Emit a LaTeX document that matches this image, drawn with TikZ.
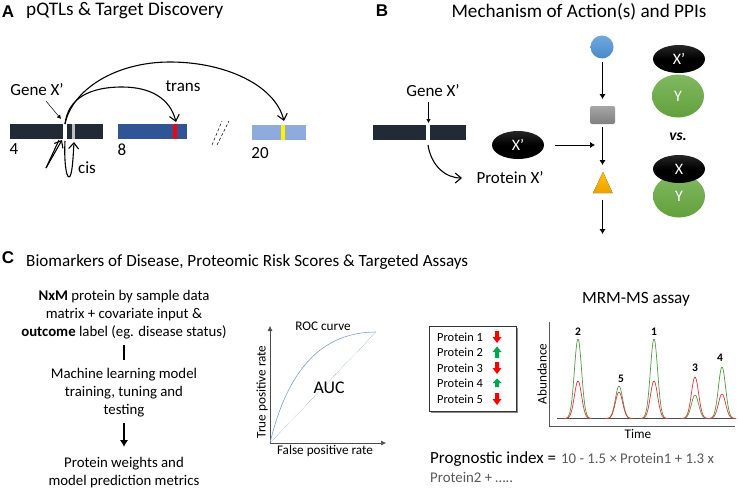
\documentclass[tikz,border=0pt]{standalone}
\usepackage{fontspec}
\setmainfont{Carlito}
\newfontfamily\headfont{Liberation Sans}
\usetikzlibrary{arrows.meta, shapes.geometric}
\definecolor{barDark}{HTML}{222A35}
\definecolor{barBlue}{HTML}{2F5597}
\definecolor{barLight}{HTML}{8FAADC}
\definecolor{greyText}{HTML}{595959}
\definecolor{peakGreen}{HTML}{4E9A3F}
\definecolor{peakRed}{HTML}{E8303A}
\definecolor{upGreen}{HTML}{00A651}
\definecolor{dotTop}{HTML}{6FA8DC}
\definecolor{dotLow}{HTML}{4A8BCB}
\definecolor{greenTop}{HTML}{80B860}
\definecolor{greenLow}{HTML}{62A03C}
\definecolor{triTop}{HTML}{FFC000}
\definecolor{triLow}{HTML}{EDA100}
\definecolor{rocBlue}{HTML}{7C9FD6}
\tikzset{
  panel/.style={font=\headfont\bfseries\fontsize{17}{17}\selectfont},
  heading/.style={inner sep=0pt, font=\fontsize{19.2}{20}\selectfont},
  lab/.style={font=\fontsize{17}{17}\selectfont},
  body/.style={font=\fontsize{14.8}{18}\selectfont},
  small/.style={font=\fontsize{13.2}{13.2}\selectfont},
  open/.style={-{Straight Barb[length=6pt,width=10pt]}, line width=1.1pt},
  flow/.style={-{Latex[length=5pt,width=6.5pt]}, line width=1pt},
  thin arrow/.style={-{Latex[length=4pt,width=4.5pt]}, line width=.5pt},
  blob/.style={ellipse, minimum width=52pt, minimum height=28pt, inner sep=0pt, text=white,
    top color=black!85, bottom color=black, middle color=black, font=\fontsize{16}{16}\selectfont},
  greenblob/.style={ellipse, minimum width=52pt, minimum height=43pt, inner sep=0pt, text=white,
    top color=greenTop, bottom color=greenLow, font=\fontsize{16}{16}\selectfont},
}
\begin{document}
\begin{tikzpicture}[x=1pt, y=-1pt]
\useasboundingbox (0,0) rectangle (738,490);

% panel A
\node [panel] (labA) at (8,12) {A};
\node [heading, anchor=west] (titleA) at (26,11) {pQTLs \& Target Discovery};

\fill [barDark] (10,124) rectangle (103,139);
\fill [white] (63,124) rectangle (67,139);
\fill [black!25] (72,124) rectangle (75,139);
\fill [barBlue] (118,124) rectangle (187,139);
\fill [red] (173,124) rectangle (177,139);
\fill [barLight] (252,125) rectangle (306,140);
\fill [yellow] (281,125) rectangle (285,140);

\draw [densely dashed, line width=.5pt] (212,145) -- (222,121);
\draw [densely dashed, line width=.5pt] (217,145) -- (229,121);

\node [lab] (chrA) at (14,149) {4};
\node [lab] (chrB) at (122,150) {8};
\node [lab] (chrC) at (260,153) {20};
\node [lab] (geneA) at (37,90) {Gene X’};
\node [lab] (trans) at (183,86) {trans};
\node [lab] (cis) at (87,168) {cis};

\coordinate (hit) at (65,124);
\coordinate (hitA) at (176,122);
\coordinate (hitB) at (284,121);
\coordinate (geneTip) at (61,119);
\draw [open] (hit) .. controls (68,98) and (90,87) .. (122,87) .. controls (150,87) and (170,98) .. (hitA);
\draw [open] (hit) .. controls (72,90) and (115,62) .. (170,62) .. controls (225,62) and (275,85) .. (hitB);
\draw [thin arrow] (46,101) -- (geneTip);

\coordinate (cisA) at (62,140);
\coordinate (cisB) at (74,142);
\coordinate (cisFoot) at (46,168);
\coordinate (cisLow) at (69,177);
\draw [open] (cisFoot) -- (cisA);
\draw [line width=1.1pt] (cisFoot) -- (59,140);
\draw [line width=1.1pt] (65,141) .. controls (64,160) and (66,177) .. (cisLow);
\draw [open] (cisLow) .. controls (72,177) and (73,160) .. (cisB);

% panel B
\node [panel] (labB) at (382,11) {B};
\node [heading] (titleB) at (579,12) {Mechanism of Action(s) and PPIs};

\fill [barDark] (373,125) rectangle (426,140);
\fill [barDark] (430,125) rectangle (466,140);
\node [lab] (geneB) at (433,91) {Gene X’};
\node [lab] (proteinX) at (510,178) {Protein X’};
\coordinate (geneIn) at (428.5,123);
\coordinate (geneOut) at (428,145);
\coordinate (proteinIn) at (462,178);
\draw [thin arrow] (428.5,102) -- (geneIn);
\draw [open] (geneOut) .. controls (431,165) and (445,178) .. (proteinIn);

\node [blob] (drug) at (518,145) {X’};
\coordinate (drugTip) at (595,145);
\draw [flow] (555,145) -- (drugTip);

\node [circle, minimum size=23pt, inner sep=0pt, top color=dotTop, bottom color=dotLow] (dot) at (602,47) {};
\node [rounded corners=2pt, minimum width=25pt, minimum height=18pt, inner sep=0pt, top color=black!35, bottom color=black!50] (rect) at (602.5,115) {};
\coordinate (apex) at (603,172);
\fill [top color=triTop, bottom color=triLow] (apex) -- (612.5,193) -- (593,193) -- cycle;
\coordinate (tri) at (602.5,200);
\coordinate (endB) at (602.5,234);
\draw [flow] (602.5,62) -- (602.5,99);
\draw [flow] (602.5,127) -- (602.5,165);
\draw [flow] (tri) -- (endB);

\node [greenblob] (yA) at (678,96) {Y};
\node [blob] (xA) at (679,59) {X’};
\node [font=\fontsize{15.5}{15.5}\selectfont\itshape\bfseries] (versus) at (678,137) {vs.};
\node [greenblob] (yB) at (679,196) {Y};
\node [blob] (xB) at (679,169) {X};

% panel C
\node [panel] (labC) at (8,258) {C};
\node [heading, anchor=west, font=\fontsize{17.1}{18}\selectfont] (titleC) at (26,262) {Biomarkers of Disease, Proteomic Risk Scores \& Targeted Assays};

\node [body, align=center] (input) at (124,314.5) {\textbf{NxM} protein by sample data\\ matrix + covariate input \&\\ \textbf{outcome} label (eg. disease status)};
\node [body, align=center] (train) at (124,392.5) {Machine learning model\\ training, tuning and\\ testing};
\node [body, align=center] (metrics) at (124,473) {Protein weights and\\ model prediction metrics};
\draw [line width=2.4pt] (124,345) -- (124,360);
\draw [-{Latex[length=7pt,width=8.5pt]}, line width=2pt] (124,423) -- (124,447);

% ROC
\coordinate (origin) at (270,443);
\coordinate (yTop) at (270,326);
\coordinate (xEnd) at (386,443);
\coordinate (rocEnd) at (376,332);
\draw [-{Latex[length=5pt,width=5pt]}, line width=.5pt, black!70] (origin) -- (yTop);
\draw [-{Latex[length=5pt,width=5pt]}, line width=.5pt, black!70] (origin) -- (xEnd);
\draw [rocBlue, line width=.6pt] (origin) .. controls (285,380) and (315,332) .. (rocEnd);
\draw [rocBlue, densely dotted, line width=.5pt] (origin) -- (rocEnd);
\node [small] (rocLabel) at (323,326) {ROC curve};
\node [font=\fontsize{17.8}{18}\selectfont] (auc) at (329,388) {AUC};
\node [small] (xName) at (325,451) {False positive rate};
\node [small, rotate=90] (yName) at (262,392) {True positive rate};

% protein list
\fill [black!45] (431,328) rectangle (518,413);
\node [draw=black!80, fill=white, line width=.7pt, minimum width=87pt, minimum height=85pt, inner sep=0pt] (listBox) at (472.5,368.5) {};
\foreach \n/\yy in {1/337, 2/352, 3/368, 4/383, 5/399}
  \node [anchor=west, inner sep=0pt, font=\fontsize{12.4}{12.4}\selectfont] (prot\n) at (437,\yy) {Protein \n};
\foreach \yy in {337, 368, 399}
  \fill [red] (495,\yy-6) -- (499,\yy-6) -- (499,\yy) -- (501.5,\yy) -- (497,\yy+6) -- (492.5,\yy) -- (495,\yy) -- cycle;
\fill [upGreen] (495,358) -- (499,358) -- (499,352) -- (501.5,352) -- (497,346.5) -- (492.5,352) -- (495,352) -- cycle;
\fill [upGreen] (495,387) -- (499,387) -- (499,383) -- (501.5,383) -- (497,378.5) -- (492.5,383) -- (495,383) -- cycle;

% chromatogram
\node [font=\fontsize{17.2}{17.2}\selectfont] (mrm) at (636,299) {MRM-MS assay};
\coordinate (yAxis) at (549,322);
\coordinate (corner) at (549,426);
\coordinate (xAxis) at (735,426);
\draw [black!65, line width=.7pt] (yAxis) -- (corner) -- (xAxis);
\draw [black!70, line width=.6pt] (557,418.5) -- (736,418.5);
\foreach \pk/\hg/\hr in {578/79.5/37.5, 619/32.5/26.5, 654/79.5/37.5, 695/23.5/41.5, 722/51.5/24.5} {
  \draw [peakGreen, line width=.7pt] plot [domain=\pk-14:\pk+14, samples=40, smooth] (\x, {418.5-\hg*exp(-((\x-\pk)/3.6)^2/2)});
  \draw [peakRed, line width=.7pt] plot [domain=\pk-14:\pk+14, samples=40, smooth] (\x, {418.5-\hr*exp(-((\x-\pk)/3.6)^2/2)});
}
\foreach \n/\xx/\yy in {2/578/332, 5/621/379, 1/654/332, 3/695/368, 4/720/358}
  \node [font=\fontsize{11.5}{11.5}\selectfont\bfseries] (peak\n) at (\xx,\yy) {\n};
\node [small, rotate=90] (abund) at (542,374) {Abundance};
\node [small] (timeName) at (638,434) {Time};

\node [anchor=base west, inner sep=0pt, font=\fontsize{17}{17}\selectfont] (prog) at (430,463) {Prognostic index =};
\node [anchor=base west, inner sep=0pt, text=greyText, font=\fontsize{14.8}{14.8}\selectfont] (progA) at (561,463) {10 - 1.5 × Protein1 + 1.3 x};
\node [anchor=base west, inner sep=0pt, text=greyText, font=\fontsize{14.8}{14.8}\selectfont] (progB) at (430,482) {Protein2 + …..};
\end{tikzpicture}
\end{document}
